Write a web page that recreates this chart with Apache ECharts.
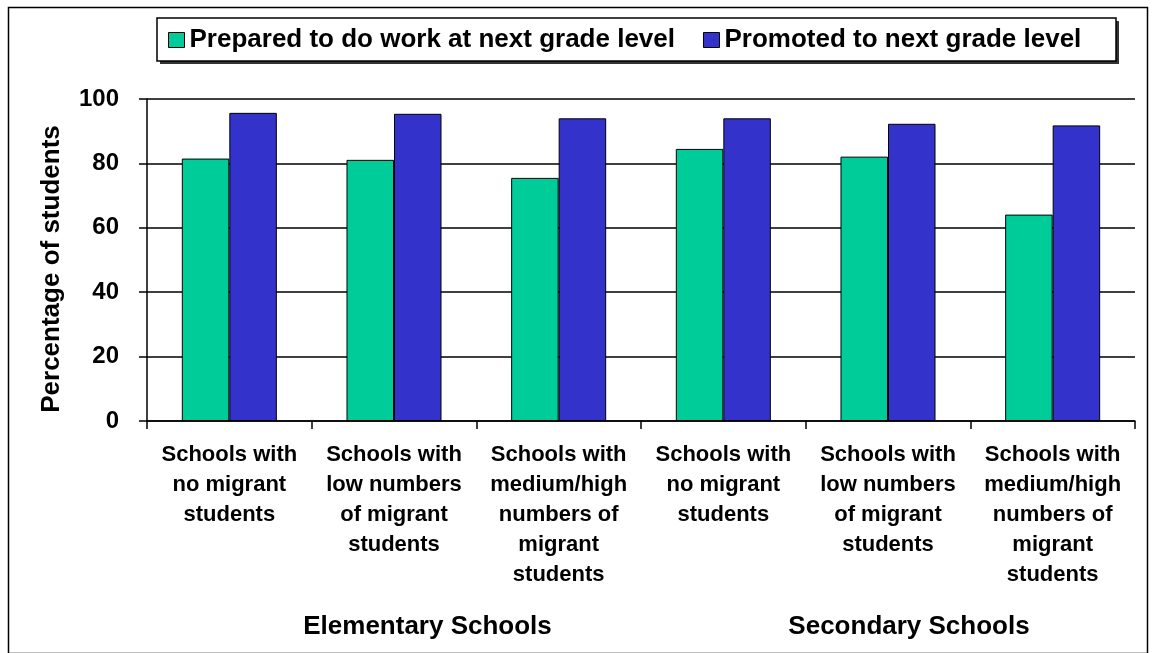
<!DOCTYPE html>
<html>
<head>
<meta charset="utf-8">
<script src="https://cdn.jsdelivr.net/npm/echarts@6/dist/echarts.min.js"></script>
<style>
html,body{margin:0;padding:0;background:#fff;}
#chart{width:1152px;height:653px;}
</style>
</head>
<body>
<div id="chart"></div>
<script>
const categories = [
  'Schools with\nno migrant\nstudents',
  'Schools with\nlow numbers\nof migrant\nstudents',
  'Schools with\nmedium/high\nnumbers of\nmigrant\nstudents',
  'Schools with\nno migrant\nstudents',
  'Schools with\nlow numbers\nof migrant\nstudents',
  'Schools with\nmedium/high\nnumbers of\nmigrant\nstudents'
];
const seriesNames = ['Prepared to do work at next grade level', 'Promoted to next grade level'];
const prepared = [81.5, 81.1, 75.5, 84.5, 82.1, 64.1];
const promoted = [95.7, 95.4, 94.0, 94.0, 92.3, 91.8];
const groupLabels = ['Elementary Schools', 'Secondary Schools'];
const yTicks = [0, 20, 40, 60, 80, 100];
const yTitle = 'Percentage of students';

const FONT = '"Liberation Sans", Arial, sans-serif';
const chart = echarts.init(document.getElementById('chart'));
chart.setOption({
  animation: false,
  backgroundColor: '#fff',
  textStyle: { fontFamily: FONT },
  legend: {
    left: 157, top: 19,
    padding: [8, 19, 8, 11],
    itemWidth: 16, itemHeight: 15, itemGap: 28,
    icon: 'rect',
    itemStyle: { borderColor: '#000', borderWidth: 1 },
    textStyle: { fontFamily: FONT, fontWeight: 'bold', fontSize: 26, color: '#000' },
    data: seriesNames
  },
  grid: { left: 147, right: 17, top: 99, bottom: 232, containLabel: false },
  xAxis: {
    type: 'category',
    data: categories,
    axisLine: { lineStyle: { color: '#000', width: 1.5 } },
    axisTick: { show: true, length: 8, lineStyle: { color: '#000', width: 1.5 } },
    axisLabel: {
      interval: 0, margin: 19,
      fontFamily: FONT, fontWeight: 'bold', fontSize: 22, lineHeight: 30, color: '#000', align: 'center'
    },
    splitLine: { show: false }
  },
  yAxis: {
    type: 'value',
    min: yTicks[0], max: yTicks[yTicks.length - 1], interval: 20,
    name: yTitle,
    nameLocation: 'middle', nameGap: 82,
    nameTextStyle: { fontFamily: FONT, fontWeight: 'bold', fontSize: 26, color: '#000', padding: [0, 18, 0, 0] },
    axisLine: { show: true, lineStyle: { color: '#000', width: 1.5 } },
    axisTick: { show: true, length: 8, lineStyle: { color: '#000', width: 1.5 } },
    axisLabel: { margin: 28, fontFamily: FONT, fontWeight: 'bold', fontSize: 24, color: '#000' },
    splitLine: { show: true, lineStyle: { color: '#000', width: 1.5 } }
  },
  series: [
    {
      name: seriesNames[0], type: 'bar', data: prepared,
      barGap: '0%', barCategoryGap: '42.3%',
      itemStyle: { color: '#00CC99', borderColor: '#000', borderWidth: 1 }
    },
    {
      name: seriesNames[1], type: 'bar', data: promoted,
      barGap: '0%', barCategoryGap: '42.3%',
      itemStyle: { color: '#3333CC', borderColor: '#000', borderWidth: 1 }
    }
  ],
  graphic: [
    { type: 'rect', left: 6, top: 5, shape: { width: 1139, height: 646 }, style: { fill: 'none', stroke: '#000', lineWidth: 1.5 }, silent: true },
    { type: 'rect', x: 160, y: 21, shape: { width: 959, height: 43 }, style: { fill: '#333' }, silent: true, z: -2 },
    { type: 'rect', x: 157, y: 18, shape: { width: 959, height: 43 }, style: { fill: '#fff', stroke: '#000', lineWidth: 1.5 }, silent: true, z: -1 },
    { type: 'text', x: 427.5, y: 627, style: { text: groupLabels[0], font: 'bold 26px ' + FONT, fill: '#000', align: 'center', verticalAlign: 'middle' } },
    { type: 'text', x: 909, y: 627, style: { text: groupLabels[1], font: 'bold 26px ' + FONT, fill: '#000', align: 'center', verticalAlign: 'middle' } }
  ]
});
</script>
</body>
</html>
